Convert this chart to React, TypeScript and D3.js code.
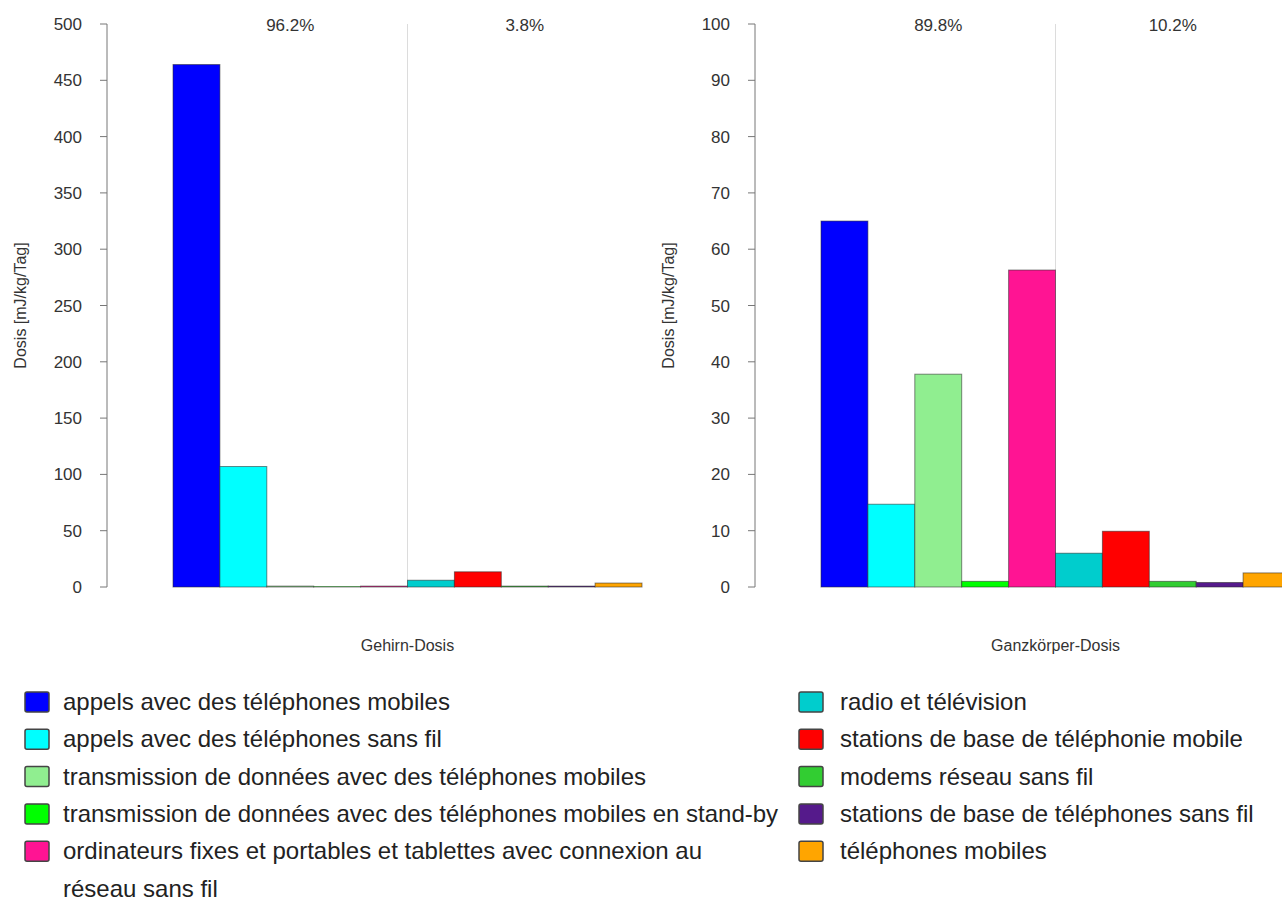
import React from "react";
import * as d3 from "d3";

const categories = [
  "appels avec des téléphones mobiles",
  "appels avec des téléphones sans fil",
  "transmission de données avec des téléphones mobiles",
  "transmission de données avec des téléphones mobiles en stand-by",
  "ordinateurs fixes et portables et tablettes avec connexion au réseau sans fil",
  "radio et télévision",
  "stations de base de téléphonie mobile",
  "modems réseau sans fil",
  "stations de base de téléphones sans fil",
  "téléphones mobiles",
];
const colors = [
  "#0000ff", "#00ffff", "#90ee90", "#00ff00", "#ff1493",
  "#00cdcd", "#ff0000", "#32cd32", "#551a8b", "#ffa500",
];
const brainValues = [464, 107, 0.8, 0.4, 0.8, 6, 13.5, 0.8, 0.8, 3.5];
const bodyValues = [65, 14.7, 37.8, 1, 56.3, 6, 9.9, 1, 0.8, 2.5];
const brainTicks = [0, 50, 100, 150, 200, 250, 300, 350, 400, 450, 500];
const bodyTicks = [0, 10, 20, 30, 40, 50, 60, 70, 80, 90, 100];
const brainShares = ["96.2%", "3.8%"];
const bodyShares = ["89.8%", "10.2%"];
const panelTitles = ["Gehirn-Dosis", "Ganzkörper-Dosis"];
const yTitle = "Dosis [mJ/kg/Tag]";
const legendLeft = [
  { i: 0, lines: ["appels avec des téléphones mobiles"] },
  { i: 1, lines: ["appels avec des téléphones sans fil"] },
  { i: 2, lines: ["transmission de données avec des téléphones mobiles"] },
  { i: 3, lines: ["transmission de données avec des téléphones mobiles en stand-by"] },
  { i: 4, lines: ["ordinateurs fixes et portables et tablettes avec connexion au", "réseau sans fil"] },
];
const legendRight = [5, 6, 7, 8, 9];

const FONT = "'Liberation Sans', Arial, sans-serif";

function Panel({ ox, values, ticks, maxV, shares, title }: any) {
  const axisX = ox;
  const top = 24;
  const bottom = 587;
  const y = d3.scaleLinear().domain([0, maxV]).range([bottom, top]);
  const barStart = ox + 66;
  const bw = 46.9;
  const x = d3
    .scaleBand<number>()
    .domain(d3.range(values.length))
    .range([barStart, barStart + bw * values.length])
    .padding(0);
  const mid = barStart + bw * 5;
  return (
    <g>
      <line x1={mid} x2={mid} y1={top} y2={bottom} stroke="#dcdcdc" strokeWidth={1} />
      {values.map((v: number, i: number) => (
        <rect
          key={i}
          x={x(i)}
          y={y(v)}
          width={x.bandwidth()}
          height={Math.max(0, bottom - y(v))}
          fill={colors[i]}
          stroke="rgba(40,40,40,0.55)"
          strokeWidth={1}
        />
      ))}
      <line x1={axisX} x2={axisX} y1={y(maxV)} y2={y(0)} stroke="#777" strokeWidth={1} />
      {ticks.map((t: number) => (
        <g key={t}>
          <line x1={axisX - 7} x2={axisX} y1={y(t)} y2={y(t)} stroke="#777" strokeWidth={1} />
          <text
            x={axisX - 25}
            y={y(t) + 6}
            textAnchor="end"
            fontFamily={FONT}
            fontSize={17}
            fill="#333"
          >
            {t}
          </text>
        </g>
      ))}
      <text
        transform={`translate(${axisX - 87},${(top + bottom) / 2}) rotate(-90)`}
        textAnchor="middle"
        dominantBaseline="central"
        fontFamily={FONT}
        fontSize={16}
        fill="#333"
      >
        {yTitle}
      </text>
      <text x={barStart + bw * 2.5} y={31} textAnchor="middle" fontFamily={FONT} fontSize={17} fill="#333">
        {shares[0]}
      </text>
      <text x={barStart + bw * 7.5} y={31} textAnchor="middle" fontFamily={FONT} fontSize={17} fill="#333">
        {shares[1]}
      </text>
      <text x={mid} y={651} textAnchor="middle" fontFamily={FONT} fontSize={16} fill="#333">
        {title}
      </text>
    </g>
  );
}

export default function App() {
  const rowY = (k: number) => 702 + k * 37.3;
  return (
    <svg
      width={1282}
      height={901}
      style={{ position: "absolute", left: 0, top: 0, background: "#fff" }}
    >
      <rect width={1282} height={901} fill="#fff" />
      <Panel ox={107} values={brainValues} ticks={brainTicks} maxV={500} shares={brainShares} title={panelTitles[0]} />
      <Panel ox={755} values={bodyValues} ticks={bodyTicks} maxV={100} shares={bodyShares} title={panelTitles[1]} />
      {legendLeft.map((d, k) => (
        <g key={k}>
          <rect x={25} y={rowY(k) - 10} width={24} height={20} rx={2} fill={colors[d.i]} stroke="#444" strokeWidth={1.5} />
          {d.lines.map((ln, j) => (
            <text key={j} x={63} y={rowY(k + j) + 8} fontFamily={FONT} fontSize={24} fill="#222">
              {ln}
            </text>
          ))}
        </g>
      ))}
      {legendRight.map((i, k) => (
        <g key={i}>
          <rect x={799} y={rowY(k) - 10} width={24} height={20} rx={2} fill={colors[i]} stroke="#444" strokeWidth={1.5} />
          <text x={840} y={rowY(k) + 8} fontFamily={FONT} fontSize={24} fill="#222">
            {categories[i]}
          </text>
        </g>
      ))}
    </svg>
  );
}
